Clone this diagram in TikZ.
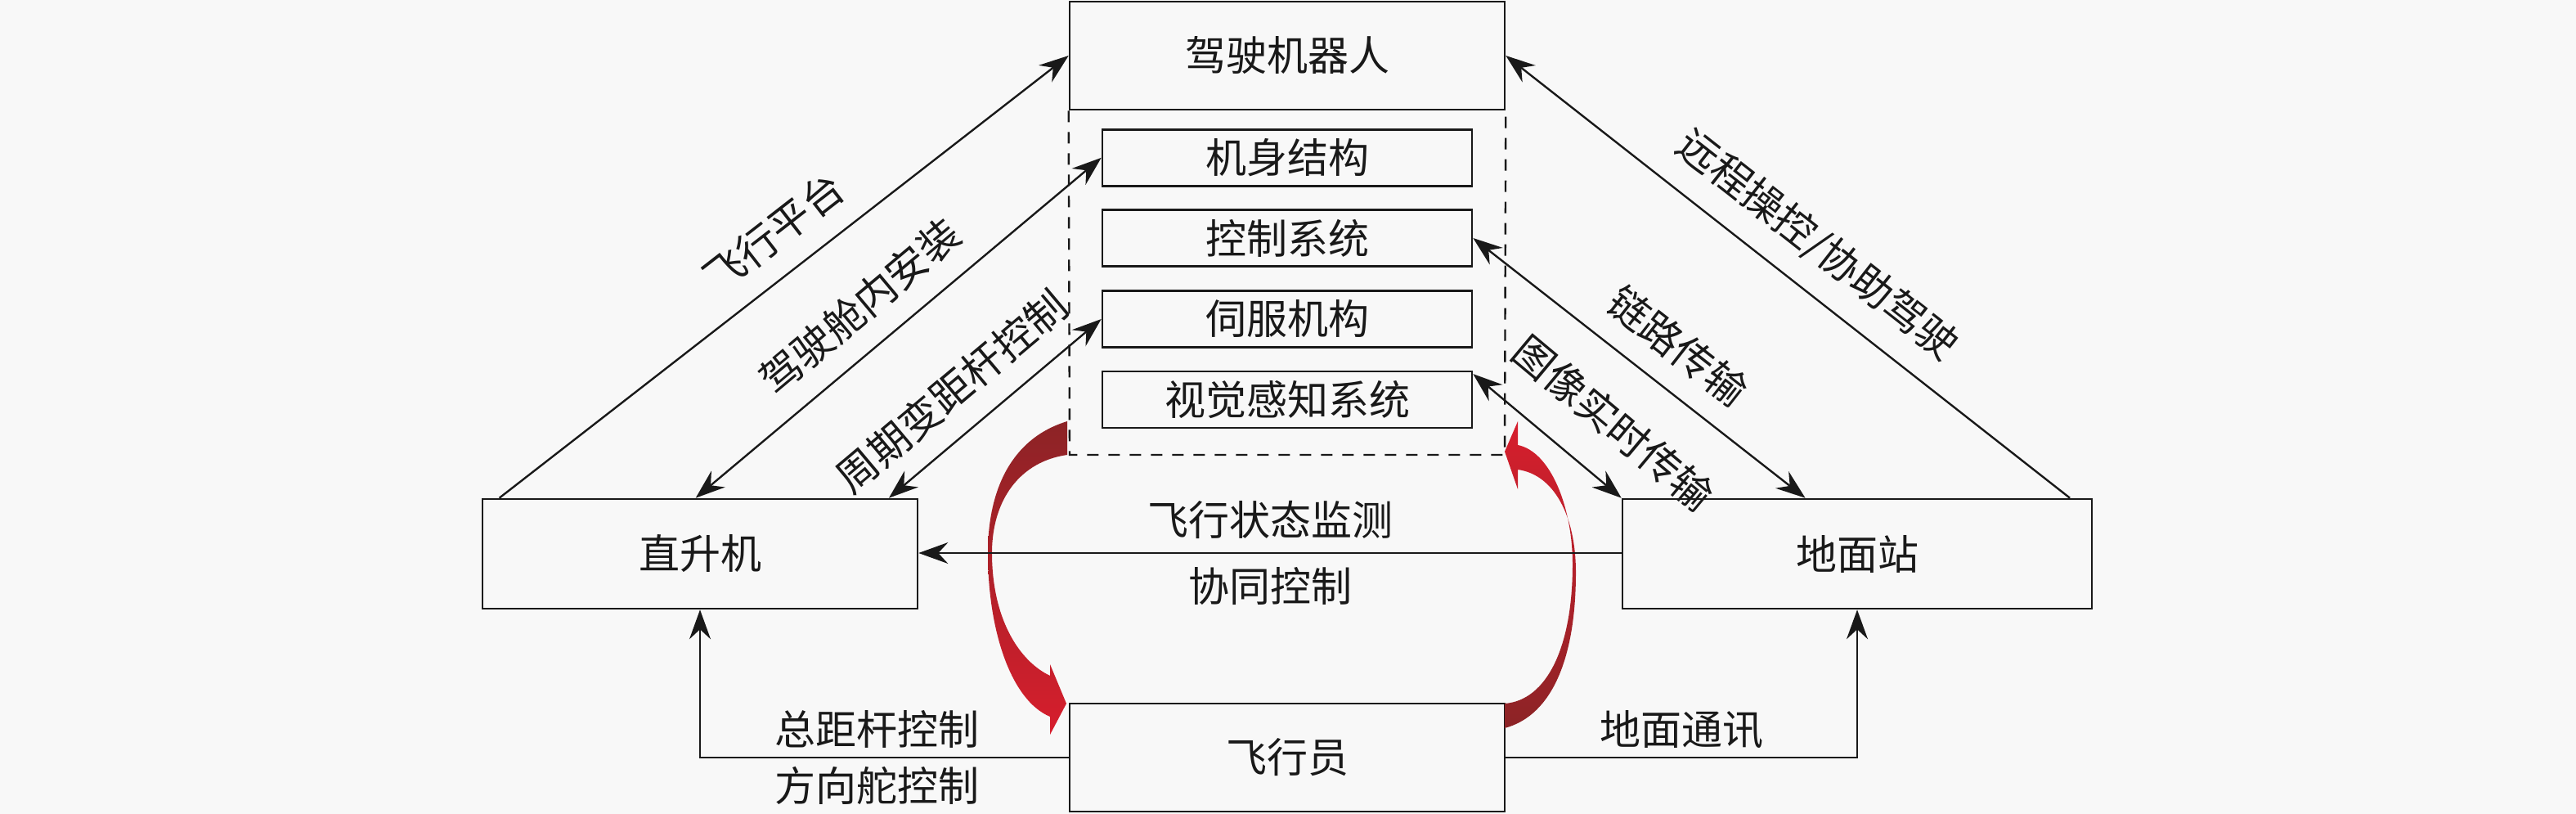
\documentclass[tikz,border=0pt]{standalone}
\usepackage{fontspec}
\newfontfamily\cjk{Noto Sans CJK SC}
\usetikzlibrary{arrows.meta,calc}
\definecolor{bgc}{RGB}{248,248,248}
\definecolor{ink}{RGB}{25,25,25}
\definecolor{darkred}{RGB}{140,35,38}
\definecolor{brightred}{RGB}{215,30,45}
\begin{document}
\begin{tikzpicture}[x=1pt,y=-1pt,
  box/.style={draw=ink, line width=1.3pt, inner sep=0pt, font=\cjk\fontsize{25}{25}\selectfont, text=ink},
  conn/.style={draw=ink, line width=1.2pt},
  tip/.style={-{Stealth[length=18pt,width=13pt,inset=6pt]}},
  both/.style={{Stealth[length=18pt,width=13pt,inset=6pt]}-{Stealth[length=18pt,width=13pt,inset=6pt]}},
  lab/.style={font=\cjk\fontsize{25}{25}\selectfont, text=ink, inner sep=0pt},
  dashbox/.style={draw=ink, line width=1.2pt, dash pattern=on 7pt off 6pt},
]
\fill[bgc] (0,0) rectangle (1575,497.5);
\useasboundingbox (0,0) rectangle (1575,497.5);

% nodes
\node[box, minimum width=266pt, minimum height=66pt] (robot) at (787,34) {驾驶机器人};
\node[box, minimum width=226pt, minimum height=34.5pt] (sub1) at (787,96.4) {机身结构};
\node[box, minimum width=226pt, minimum height=34.5pt] (sub2) at (787,145.5) {控制系统};
\node[box, minimum width=226pt, minimum height=34.5pt] (sub3) at (787,195) {伺服机构};
\node[box, minimum width=226pt, minimum height=34.5pt] (sub4) at (787,244.3) {视觉感知系统};
\node[box, minimum width=266pt, minimum height=67pt] (heli) at (428,338.5) {直升机};
\node[box, minimum width=287pt, minimum height=67pt] (ground) at (1135.5,338.5) {地面站};
\node[box, minimum width=266pt, minimum height=66pt] (pilot) at (787,463) {飞行员};

% dashed enclosure
\coordinate (dbl) at (654,278);
\coordinate (dbr) at (920,278);
\draw[dashbox] (robot.south west) -- (dbl) -- (dbr) -- (robot.south east);

% red curved arrows
\shade[top color=darkred, bottom color=brightred]
 (652.5,257.5) .. controls (618,268) and (604,300) .. (604,338)
 .. controls (604,385) and (618,428) .. (642,438)
 -- (642,449) -- (652,430) -- (642,406) -- (642,413)
 .. controls (623,404) and (606.5,378) .. (606.5,338)
 .. controls (606.5,305) and (624,282) .. (652.5,278) -- cycle;
\shade[top color=brightred, bottom color=darkred]
 (920,445) .. controls (950,437) and (963.5,400) .. (963.5,350)
 .. controls (963.5,315) and (950,290) .. (928,287)
 -- (928,299) -- (920,276) -- (928,257.5) -- (928,272)
 .. controls (948,276) and (961.5,310) .. (961.5,345)
 .. controls (961.5,395) and (946,428) .. (920,430) -- cycle;

% left connectors
\draw[conn, tip] ($(heli.north west)!0.041!(heli.north east)$) --
  node[lab, sloped, pos=0.526, above=13pt] {飞行平台} (robot.west);
\draw[conn, both] ($(heli.north west)!0.49!(heli.north east)$) --
  node[lab, sloped, pos=0.47, above=13pt] {驾驶舱内安装} (sub1.west);
\draw[conn, both] ($(heli.north west)!0.932!(heli.north east)$) --
  node[lab, sloped, pos=0.42, above=13pt] {周期变距杆控制} (sub3.west);

% right connectors
\draw[conn, tip] ($(ground.north west)!0.951!(ground.north east)$) --
  node[lab, sloped, pos=0.495, above=13pt] {远程操控/协助驾驶} (robot.east);
\draw[conn, both] (sub2.east) --
  node[lab, sloped, pos=0.54, above=13pt] {链路传输} ($(ground.north west)!0.39!(ground.north east)$);
\draw[conn, both] ($(sub4.north east)!0.06!(sub4.south east)$) --
  node[lab, sloped, pos=0.72, above=20pt] {图像实时传输} (ground.north west);

% horizontal link
\draw[conn, tip] (ground.west |- 0,338) --
  node[lab, pos=0.5, above=8pt] {飞行状态监测}
  node[lab, pos=0.5, below=8pt] {协同控制} (heli.east |- 0,338);

% bottom links
\draw[conn, tip] (pilot.west) -|
  node[lab, pos=0.26, above=5pt] {总距杆控制}
  node[lab, pos=0.26, below=5pt] {方向舵控制} (heli.south);
\draw[conn, tip] (pilot.east) -|
  node[lab, pos=0.25, above=5pt] {地面通讯} (ground.south);
\end{tikzpicture}
\end{document}
